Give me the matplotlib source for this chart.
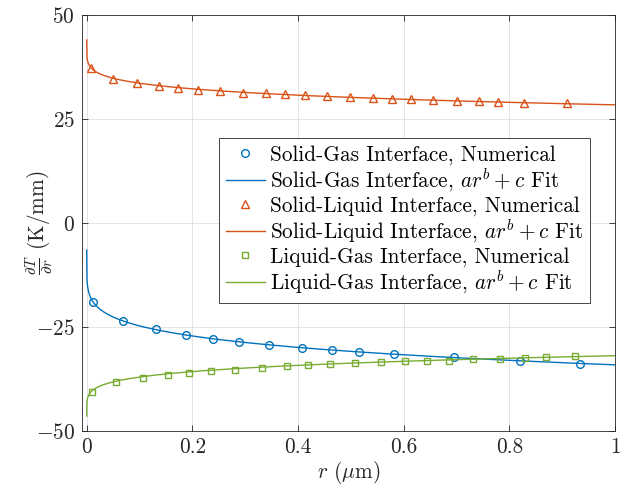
import matplotlib
matplotlib.use("Agg")
import matplotlib.pyplot as plt
import numpy as np

plt.rcParams["font.family"] = ["cmr10"]
plt.rcParams["mathtext.fontset"] = "cm"
plt.rcParams["axes.formatter.use_mathtext"] = True

FS = 15.3

# numerical gradients along the interfaces
sg_r = [0.0125, 0.069, 0.132, 0.188, 0.239, 0.289, 0.346, 0.408, 0.465, 0.515,
        0.582, 0.695, 0.820, 0.934]
sg_grad = [-18.9, -23.5, -25.6, -26.9, -27.8, -28.6, -29.3, -30.0, -30.6, -31.1,
           -31.6, -32.3, -33.2, -33.8]

sl_r = [0.008, 0.050, 0.096, 0.137, 0.173, 0.210, 0.252, 0.296, 0.339, 0.376,
        0.413, 0.454, 0.499, 0.541, 0.578, 0.614, 0.655, 0.701, 0.742, 0.779,
        0.828, 0.909]
sl_grad = [37.2, 34.6, 33.6, 32.9, 32.5, 32.0, 31.7, 31.3, 31.2, 30.9,
           30.7, 30.5, 30.2, 30.0, 29.9, 29.7, 29.6, 29.3, 29.3, 29.1,
           28.9, 28.8]

lg_r = [0.010, 0.056, 0.107, 0.153, 0.194, 0.235, 0.281, 0.332, 0.379, 0.419,
        0.461, 0.507, 0.558, 0.603, 0.644, 0.686, 0.732, 0.783, 0.829, 0.870,
        0.924]
lg_grad = [-40.6, -38.3, -37.2, -36.5, -36.0, -35.6, -35.3, -34.9, -34.4, -34.1,
           -33.9, -33.7, -33.5, -33.2, -33.1, -33.1, -32.8, -32.7, -32.4, -32.3,
           -32.0]

# a*r^b + c fit parameters
sg_fit = (-27.6, 0.18, -6.5)
sl_fit = (-15.6, 0.176, 44.0)
lg_fit = (14.5, 0.19, -46.4)

blue = "#0072BD"
orange = "#D95319"
green = "#77AC30"
axis_color = "#262626"


def power_fit(r, params):
    a, b, c = params
    return a * r ** b + c


r_fit = np.linspace(0, 1, 2001)

fig = plt.figure(figsize=(6.24, 4.91), dpi=100)
ax = fig.add_axes([0.1309, 0.1222, 0.8547, 0.8473])

ms = 5.5
ax.plot(sg_r, sg_grad, "o", color=blue, mfc="none", ms=ms, mew=1.0,
        label="Solid-Gas Interface, Numerical")
ax.plot(r_fit, power_fit(r_fit, sg_fit), "-", color=blue, lw=1.0,
        label="Solid-Gas Interface, $ar^b + c$ Fit")
ax.plot(sl_r, sl_grad, "^", color=orange, mfc="none", ms=ms + 0.5, mew=1.0,
        label="Solid-Liquid Interface, Numerical")
ax.plot(r_fit, power_fit(r_fit, sl_fit), "-", color=orange, lw=1.0,
        label="Solid-Liquid Interface, $ar^b + c$ Fit")
ax.plot(lg_r, lg_grad, "s", color=green, mfc="none", ms=ms - 0.5, mew=1.0,
        label="Liquid-Gas Interface, Numerical")
ax.plot(r_fit, power_fit(r_fit, lg_fit), "-", color=green, lw=1.0,
        label="Liquid-Gas Interface, $ar^b + c$ Fit")

ax.set_xlim(-0.0095, 1)
ax.set_ylim(-50, 50)
ax.set_xticks([0, 0.2, 0.4, 0.6, 0.8, 1])
ax.set_xticklabels(["0", "0.2", "0.4", "0.6", "0.8", "1"])
ax.set_yticks([-50, -25, 0, 25, 50])

ax.grid(True, color="#dfdfdf", lw=0.6)
ax.set_axisbelow(True)
ax.tick_params(direction="in", length=4, width=0.6, colors=axis_color,
               top=True, right=True, labelsize=FS, pad=5)
for spine in ax.spines.values():
    spine.set_color(axis_color)
    spine.set_linewidth(0.6)

ax.set_xlabel(r"$r$ ($\mu$m)", fontsize=FS, color=axis_color, labelpad=1)
ax.set_ylabel(r"$\frac{\partial T}{\partial r}$ (K/mm)", fontsize=FS,
              color=axis_color)
ax.yaxis.set_label_coords(-0.05, 0.5)

leg = ax.legend(loc="upper left", bbox_to_anchor=(0.258, 0.7036),
                borderaxespad=0, fancybox=False, framealpha=1,
                edgecolor=axis_color, fontsize=FS, handlelength=1.85,
                handletextpad=0.25, labelspacing=0.1, borderpad=0.3)
leg.get_frame().set_linewidth(0.6)

fig.savefig("out.png", dpi=100)
